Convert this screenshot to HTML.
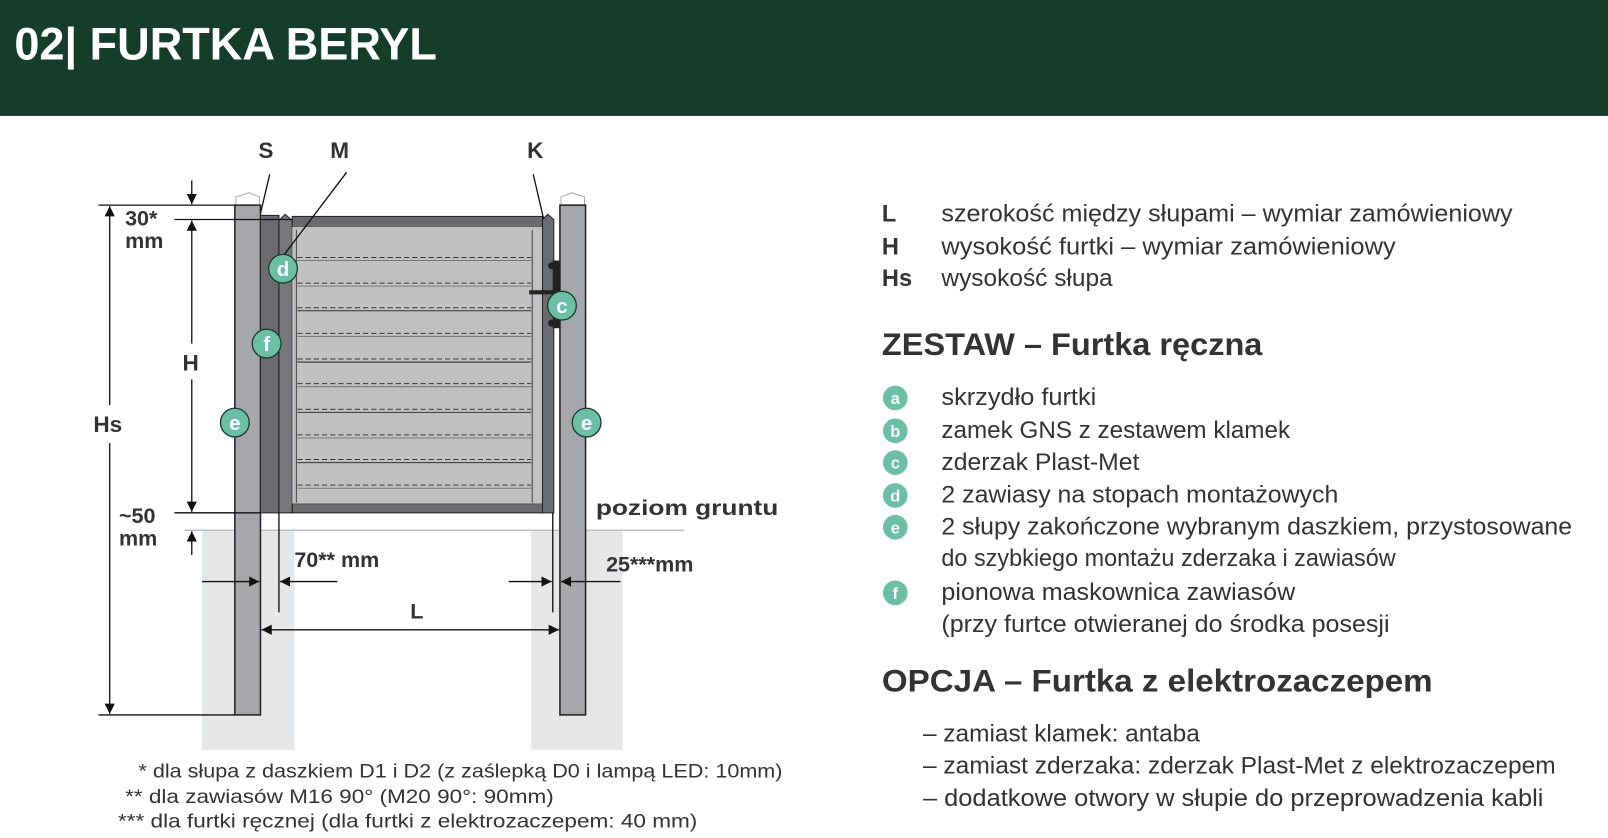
<!DOCTYPE html>
<html><head><meta charset="utf-8"><style>
html,body{margin:0;padding:0;background:#fff;}
svg{display:block;}
text{font-family:"Liberation Sans",sans-serif;fill:#333;}
.b{font-weight:bold;}
</style></head><body>
<svg width="1608" height="838" viewBox="0 0 1568 817" preserveAspectRatio="none" xmlns="http://www.w3.org/2000/svg">
<defs>
<marker id="a" viewBox="0 0 10 10" refX="10" refY="5" markerWidth="10" markerHeight="10" markerUnits="userSpaceOnUse" orient="auto"><path d="M0,0 L10,5 L0,10 z" fill="#111"/></marker>
</defs>
<rect x="0" y="0" width="1568" height="113" fill="#143d2c"/>
<text x="14" y="58" class="b" font-size="44" style="fill:#fff" textLength="412" lengthAdjust="spacingAndGlyphs">02| FURTKA BERYL</text>

<rect x="197" y="517" width="90" height="214" fill="#e6e7e9"/>
<rect x="518" y="517" width="89" height="214" fill="#e6e7e9"/>
<line x1="180" y1="517" x2="667" y2="517" stroke="#bfc0c2" stroke-width="1.5"/>

<path d="M230,200 L230,192 L243,188 L253,192 L253,200 z" fill="#fff" stroke="#aaa"/>
<rect x="229" y="200" width="25" height="497" fill="#a6a7aa" stroke="#222" stroke-width="1.5"/>
<path d="M547,200 L547,192 L558,188 L570,192 L570,200 z" fill="#fff" stroke="#aaa"/>
<rect x="546" y="200" width="25" height="497" fill="#a6a7aa" stroke="#222" stroke-width="1.5"/>

<rect x="254" y="210" width="18" height="290" fill="#6b6c70" stroke="#222" stroke-width="1"/>
<path d="M272,215 L278,209 L285,215 L285,500 L272,500 z" fill="#77787c" stroke="#222" stroke-width="1"/>
<rect x="285" y="211" width="244" height="10" fill="#6b6c70" stroke="#222" stroke-width="1"/>
<rect x="285" y="491" width="244" height="9" fill="#6b6c70" stroke="#222" stroke-width="1"/>
<rect x="285" y="221" width="244" height="270" fill="#c0c1c3"/>
<line x1="289" y1="224" x2="289" y2="490" stroke="#444" stroke-width="1"/>
<line x1="519" y1="224" x2="519" y2="490" stroke="#444" stroke-width="1"/>
<path d="M529,214 L534,209 L540,214 L540,500 L529,500 z" fill="#6b6c70" stroke="#222" stroke-width="1"/>
<g stroke="#333" stroke-width="1">
<g stroke-dasharray="5,3">
<line x1="290" y1="251" x2="518" y2="251"/><line x1="290" y1="276" x2="518" y2="276"/><line x1="290" y1="300" x2="518" y2="300"/><line x1="290" y1="325" x2="518" y2="325"/><line x1="290" y1="350" x2="518" y2="350"/><line x1="290" y1="374" x2="518" y2="374"/><line x1="290" y1="399" x2="518" y2="399"/><line x1="290" y1="424" x2="518" y2="424"/><line x1="290" y1="448" x2="518" y2="448"/><line x1="290" y1="473" x2="518" y2="473"/>
</g>
<line x1="290" y1="254" x2="518" y2="254" stroke="#777"/><line x1="290" y1="279" x2="518" y2="279" stroke="#777"/><line x1="290" y1="303" x2="518" y2="303"/><line x1="290" y1="328" x2="518" y2="328" stroke="#777"/><line x1="290" y1="353" x2="518" y2="353"/><line x1="290" y1="377" x2="518" y2="377" stroke="#777"/><line x1="290" y1="402" x2="518" y2="402"/><line x1="290" y1="427" x2="518" y2="427" stroke="#777"/><line x1="290" y1="451" x2="518" y2="451"/><line x1="290" y1="476" x2="518" y2="476" stroke="#777"/>
</g>
<rect x="539" y="254" width="7" height="66" fill="#222"/>
<circle cx="538" cy="259" r="3.5" fill="#222"/><circle cx="538" cy="315" r="3.5" fill="#222"/>
<line x1="516" y1="285" x2="540" y2="285" stroke="#222" stroke-width="4"/>

<g stroke="#111" stroke-width="1.3" fill="none">
<line x1="263" y1="170" x2="254" y2="208"/>
<line x1="338" y1="168" x2="272" y2="255"/>
<line x1="520" y1="170" x2="530" y2="213"/>
</g>
<text x="252" y="154" class="b" font-size="22">S</text>
<text x="322" y="154" class="b" font-size="22">M</text>
<text x="514" y="154" class="b" font-size="22">K</text>

<g stroke="#111" stroke-width="1.3" fill="none">
<line x1="96" y1="200" x2="229" y2="200"/>
<line x1="96" y1="697" x2="229" y2="697"/>
<line x1="107" y1="395" x2="107" y2="201" marker-end="url(#a)"/>
<line x1="107" y1="432" x2="107" y2="696" marker-end="url(#a)"/>
<line x1="170" y1="214" x2="285" y2="214"/>
<line x1="170" y1="500" x2="254" y2="500"/>
<line x1="187" y1="176" x2="187" y2="199" marker-end="url(#a)"/>
<line x1="187" y1="335" x2="187" y2="215" marker-end="url(#a)"/>
<line x1="187" y1="370" x2="187" y2="499" marker-end="url(#a)"/>
<line x1="187" y1="541" x2="187" y2="518" marker-end="url(#a)"/>
<line x1="272" y1="500" x2="272" y2="597"/>
<line x1="539" y1="500" x2="539" y2="597"/>
<line x1="197" y1="567" x2="253" y2="567" marker-end="url(#a)"/>
<line x1="329" y1="567" x2="273" y2="567" marker-end="url(#a)"/>
<line x1="496" y1="567" x2="538" y2="567" marker-end="url(#a)"/>
<line x1="605" y1="567" x2="547" y2="567" marker-end="url(#a)"/>
<line x1="400" y1="614" x2="255" y2="614" marker-end="url(#a)"/>
<line x1="400" y1="614" x2="545" y2="614" marker-end="url(#a)"/>
</g>
<text x="91" y="421" class="b" font-size="22">Hs</text>
<text x="178" y="361" class="b" font-size="22">H</text>
<text x="122" y="220" class="b" font-size="21">30*</text>
<text x="122" y="242" class="b" font-size="21">mm</text>
<text x="116" y="510" class="b" font-size="21">~50</text>
<text x="116" y="532" class="b" font-size="21">mm</text>
<text x="287" y="553" class="b" font-size="21">70** mm</text>
<text x="591" y="557" class="b" font-size="21">25***mm</text>
<text x="400" y="603" class="b" font-size="21">L</text>
<text x="581" y="502" class="b" font-size="21" textLength="178" lengthAdjust="spacingAndGlyphs">poziom gruntu</text>

<g stroke="#1a3b30" stroke-width="1.3" fill="#6bbfa5">
<circle cx="276" cy="262" r="14"/><circle cx="260" cy="335" r="14"/><circle cx="229" cy="412" r="14"/><circle cx="572" cy="412" r="14"/><circle cx="548" cy="298" r="14"/>
</g>
<g class="b" font-size="20" text-anchor="middle">
<text x="276" y="269" style="fill:#fff">d</text><text x="260" y="342" style="fill:#fff">f</text><text x="229" y="419" style="fill:#fff">e</text><text x="572" y="419" style="fill:#fff">e</text><text x="548" y="305" style="fill:#fff">c</text>
</g>

<g font-size="19">
<text x="135" y="758" textLength="628" lengthAdjust="spacingAndGlyphs">* dla słupa z daszkiem D1 i D2 (z zaślepką D0 i lampą LED: 10mm)</text>
<text x="122" y="783" textLength="418" lengthAdjust="spacingAndGlyphs">** dla zawiasów M16 90° (M20 90°: 90mm)</text>
<text x="115" y="807" textLength="565" lengthAdjust="spacingAndGlyphs">*** dla furtki ręcznej (dla furtki z elektrozaczepem: 40 mm)</text>
</g>

<g font-size="23">
<text x="860" y="216" class="b">L</text>
<text x="860" y="248" class="b">H</text>
<text x="860" y="279" class="b">Hs</text>
<text x="918" y="216" textLength="557" lengthAdjust="spacingAndGlyphs">szerokość między słupami – wymiar zamówieniowy</text>
<text x="918" y="248" textLength="443" lengthAdjust="spacingAndGlyphs">wysokość furtki – wymiar zamówieniowy</text>
<text x="918" y="279" textLength="167" lengthAdjust="spacingAndGlyphs">wysokość słupa</text>
</g>
<text x="860" y="346" class="b" font-size="31" textLength="371" lengthAdjust="spacingAndGlyphs">ZESTAW – Furtka ręczna</text>
<g fill="#6bbfa5">
<circle cx="873" cy="388" r="12"/><circle cx="873" cy="420" r="12"/><circle cx="873" cy="451" r="12"/><circle cx="873" cy="483" r="12"/><circle cx="873" cy="514" r="12"/><circle cx="873" cy="578" r="12"/>
</g>
<g class="b" font-size="16" text-anchor="middle">
<text x="873" y="394" style="fill:#fff">a</text><text x="873" y="426" style="fill:#fff">b</text><text x="873" y="457" style="fill:#fff">c</text><text x="873" y="489" style="fill:#fff">d</text><text x="873" y="520" style="fill:#fff">e</text><text x="873" y="584" style="fill:#fff">f</text>
</g>
<g font-size="23">
<text x="918" y="395" textLength="151" lengthAdjust="spacingAndGlyphs">skrzydło furtki</text>
<text x="918" y="427" textLength="340" lengthAdjust="spacingAndGlyphs">zamek GNS z zestawem klamek</text>
<text x="918" y="458" textLength="193" lengthAdjust="spacingAndGlyphs">zderzak Plast-Met</text>
<text x="918" y="490" textLength="387" lengthAdjust="spacingAndGlyphs">2 zawiasy na stopach montażowych</text>
<text x="918" y="521" textLength="615" lengthAdjust="spacingAndGlyphs">2 słupy zakończone wybranym daszkiem, przystosowane</text>
<text x="918" y="552" textLength="443" lengthAdjust="spacingAndGlyphs">do szybkiego montażu zderzaka i zawiasów</text>
<text x="918" y="585" textLength="345" lengthAdjust="spacingAndGlyphs">pionowa maskownica zawiasów</text>
<text x="918" y="616" textLength="437" lengthAdjust="spacingAndGlyphs">(przy furtce otwieranej do środka posesji</text>
</g>
<text x="860" y="674" class="b" font-size="31" textLength="537" lengthAdjust="spacingAndGlyphs">OPCJA – Furtka z elektrozaczepem</text>
<g font-size="23">
<text x="900" y="723" textLength="270" lengthAdjust="spacingAndGlyphs">– zamiast klamek: antaba</text>
<text x="900" y="754" textLength="617" lengthAdjust="spacingAndGlyphs">– zamiast zderzaka: zderzak Plast-Met z elektrozaczepem</text>
<text x="900" y="786" textLength="605" lengthAdjust="spacingAndGlyphs">– dodatkowe otwory w słupie do przeprowadzenia kabli</text>
</g>
</svg>
</body></html>
